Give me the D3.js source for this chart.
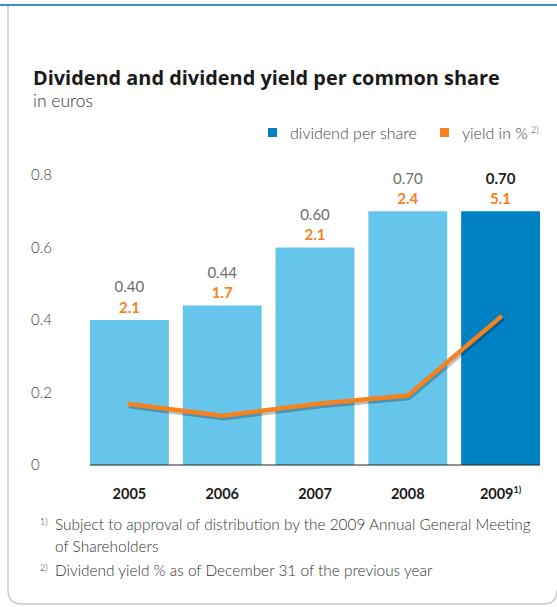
<!DOCTYPE html>
<html>
<head>
<meta charset="utf-8">
<script src="https://cdn.jsdelivr.net/npm/d3@7"></script>
<style>
  body { margin: 0; background: #fff; }
  svg { display: block; font-family: Lato, "Open Sans", sans-serif; }
</style>
</head>
<body>
<div id="chart"></div>
<script>
// Data
const years = ["2005", "2006", "2007", "2008", "2009"];
const dividends = [0.40, 0.44, 0.60, 0.70, 0.70];
const yields = [2.1, 1.7, 2.1, 2.4, 5.1];
const yTicks = [0, 0.2, 0.4, 0.6, 0.8];

const W = 557, H = 607;
const svg = d3.select("#chart").append("svg")
  .attr("width", W)
  .attr("height", H);

// frame: blue top rule and a grey rounded box
svg.append("line")
  .attr("x1", 0).attr("x2", W).attr("y1", 5).attr("y2", 5)
  .attr("stroke", "#3a8fd5").attr("stroke-width", 2);
svg.append("path")
  .attr("d", "M8,6 V590 Q8,604 22,604 H543 Q557,604 557,590")
  .attr("fill", "none").attr("stroke", "#c9c9c9").attr("stroke-width", 1.5);

// titles
svg.append("text")
  .attr("x", 33).attr("y", 85)
  .style("font-family", "'Open Sans', sans-serif")
  .style("font-weight", 700).style("font-size", "19.9px").attr("fill", "#1a1a1a")
  .text("Dividend and dividend yield per common share");
svg.append("text")
  .attr("x", 33).attr("y", 107)
  .style("font-weight", 300).style("font-size", "17.5px").attr("fill", "#333")
  .text("in euros");

// scales
const x = d3.scaleBand()
  .domain(years)
  .range([90, 540])
  .paddingInner(0.15)
  .paddingOuter(0);

const y = d3.scaleLinear().domain([0, 0.8]).range([465, 175]);
const yYield = d3.scaleLinear().domain([0, 10]).range([465, 175]);

// y axis labels
svg.append("g").selectAll("text")
  .data(yTicks).enter().append("text")
  .attr("x", 31)
  .attr("y", d => y(d))
  .attr("dy", "0.35em")
  .style("font-size", "15px").style("font-weight", 300).attr("fill", "#444")
  .text(d => d === 0 ? "0" : d3.format(".1f")(d));

// bars
svg.append("g").selectAll("rect")
  .data(years).enter().append("rect")
  .attr("x", d => x(d))
  .attr("y", (d, i) => y(dividends[i]))
  .attr("width", x.bandwidth())
  .attr("height", (d, i) => y(0) - y(dividends[i]))
  .attr("fill", (d, i) => i === years.length - 1 ? "#0081c4" : "#66c5eb");

// baseline
svg.append("line")
  .attr("x1", x(years[0])).attr("x2", x(years[4]) + x.bandwidth())
  .attr("y1", y(0)).attr("y2", y(0))
  .attr("stroke", "#222").attr("stroke-width", 1);

// yield line with shadow
const line = d3.line()
  .x((d, i) => x(years[i]) + x.bandwidth() / 2)
  .y(d => yYield(d));
svg.append("path")
  .datum(yields)
  .attr("d", line)
  .attr("transform", "translate(1.5,2.5)")
  .attr("fill", "none").attr("stroke", "#000").attr("stroke-opacity", 0.25)
  .attr("stroke-width", 4.5).attr("stroke-linejoin", "round").attr("stroke-linecap", "round");
svg.append("path")
  .datum(yields)
  .attr("d", line)
  .attr("fill", "none").attr("stroke", "#f5821f")
  .attr("stroke-width", 4.5).attr("stroke-linejoin", "round").attr("stroke-linecap", "round");

// value labels
const labels = svg.append("g");
labels.selectAll(".div").data(years).enter().append("text")
  .attr("x", d => x(d) + x.bandwidth() / 2)
  .attr("y", (d, i) => y(dividends[i]) - 33)
  .attr("dy", "0.35em")
  .attr("text-anchor", "middle")
  .style("font-size", "15px")
  .style("font-weight", (d, i) => i === 4 ? 700 : 400)
  .attr("fill", (d, i) => i === 4 ? "#222" : "#6d6d6d")
  .text((d, i) => d3.format(".2f")(dividends[i]));
labels.selectAll(".yld").data(years).enter().append("text")
  .attr("x", d => x(d) + x.bandwidth() / 2)
  .attr("y", (d, i) => y(dividends[i]) - 12.5)
  .attr("dy", "0.35em")
  .attr("text-anchor", "middle")
  .style("font-size", "15px")
  .style("font-weight", 700)
  .attr("fill", "#f5821f")
  .text((d, i) => d3.format(".1f")(yields[i]));

// year labels
const yearText = svg.append("g").selectAll("text")
  .data(years).enter().append("text")
  .attr("x", d => x(d) + x.bandwidth() / 2)
  .attr("y", 499)
  .attr("text-anchor", "middle")
  .style("font-size", "14.5px").style("font-weight", 700).attr("fill", "#1a1a1a")
  .text(d => d);
yearText.filter(d => d === "2009")
  .append("tspan").attr("dy", -6).style("font-size", "9px").text("1)");

// legend
const legend = svg.append("g");
const legendItems = [
  { label: "dividend per share", color: "#0081c4", x: 268 },
  { label: "yield in %", color: "#f5821f", x: 440 }
];
legendItems.forEach(item => {
  legend.append("rect")
    .attr("x", item.x).attr("y", 128).attr("width", 9).attr("height", 9)
    .attr("fill", item.color);
  legend.append("text")
    .attr("x", item.x + 22).attr("y", 139)
    .style("font-size", "16px").style("font-weight", 300).attr("fill", "#444")
    .text(item.label);
});
legend.append("text")
  .attr("x", 531).attr("y", 133)
  .style("font-size", "9px").style("font-weight", 300).attr("fill", "#444")
  .text("2)");

// footnotes
const notes = svg.append("g")
  .style("font-size", "15.4px").style("font-weight", 300).attr("fill", "#333");
const noteLines = [
  { mark: "1)", text: "Subject to approval of distribution by the 2009 Annual General Meeting", y: 530 },
  { mark: "", text: "of Shareholders", y: 552 },
  { mark: "2)", text: "Dividend yield % as of December 31 of the previous year", y: 576 }
];
noteLines.forEach(n => {
  if (n.mark) {
    notes.append("text").attr("x", 40).attr("y", n.y - 5)
      .style("font-size", "9px").text(n.mark);
  }
  notes.append("text").attr("x", 55).attr("y", n.y).text(n.text);
});
</script>
</body>
</html>
